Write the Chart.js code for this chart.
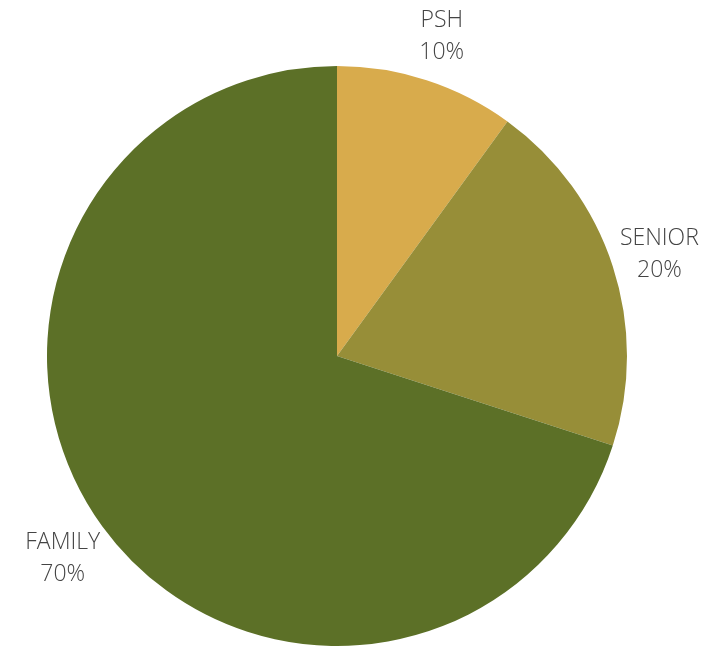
<!DOCTYPE html>
<html>
<head>
<meta charset="utf-8">
<script src="https://cdn.jsdelivr.net/npm/chart.js@4"></script>
<style>
  html, body { margin: 0; padding: 0; background: #fff; }
  #wrap { width: 703px; height: 646px; }
</style>
</head>
<body>
<div id="wrap"><canvas id="pieChart"></canvas></div>
<script>
const categories = ['PSH', 'SENIOR', 'FAMILY'];
const shares = [10, 20, 70];
const sliceColors = ['#d8ab4c', '#978e38', '#5c7027'];

// labels outside each slice, name on top and percent below
const outerLabels = {
    id: 'outerLabels',
    afterDatasetsDraw(chart) {
        const ctx = chart.ctx;
        const arcs = chart.getDatasetMeta(0).data;
        ctx.save();
        ctx.font = '300 23px "Open Sans"';
        ctx.fillStyle = '#444444';
        ctx.textAlign = 'center';
        ctx.textBaseline = 'middle';
        arcs.forEach(function (arc, i) {
            const mid = (arc.startAngle + arc.endAngle) / 2;
            const dist = arc.outerRadius + 49;
            const x = arc.x + Math.cos(mid) * dist;
            const y = arc.y + Math.sin(mid) * dist;
            ctx.fillText(categories[i], x, y - 13);
            ctx.fillText(shares[i] + '%', x, y + 19);
        });
        ctx.restore();
    }
};

const ctx = document.getElementById('pieChart').getContext('2d');
const pieChart = new Chart(ctx, {
    type: 'pie',
    data: {
        labels: categories,
        datasets: [{
            data: shares,
            backgroundColor: sliceColors,
            borderWidth: 0,
            hoverOffset: 0
        }]
    },
    options: {
        responsive: true,
        maintainAspectRatio: false,
        animation: false,
        layout: {
            padding: { top: 66, bottom: -2, left: 46, right: 75 }
        },
        plugins: {
            legend: { display: false },
            tooltip: { enabled: false }
        }
    },
    plugins: [outerLabels]
});
</script>
</body>
</html>
